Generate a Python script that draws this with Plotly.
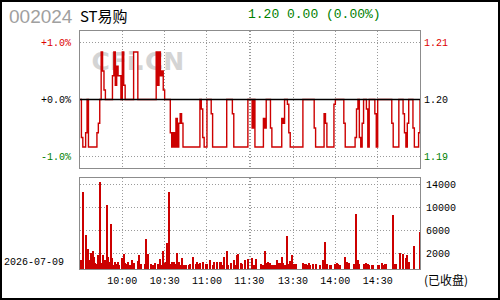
import plotly.graph_objects as go

# ---------------- data ----------------
stock_code = "002024"
stock_name = "ST易购"
trade_date = "2026-07-09"
prev_close = 1.20
quote_text = "1.20 0.00 (0.00%)"

# minute categories 09:30-11:30, 13:00-15:00
times = []
for h, m0, m1 in [(9, 30, 59), (10, 0, 59), (11, 0, 30), (13, 0, 59), (14, 0, 59), (15, 0, 0)]:
    for m in range(m0, m1 + 1):
        times.append(f"{h:02d}:{m:02d}")

prices = [
    1.200, 1.192, 1.190, 1.190, 1.193, 1.200, 1.190, 1.190, 1.190, 1.190, 1.190, 1.190, 1.193, 1.195, 1.200, 1.210, 1.206, 1.202, 1.200, 1.200,
    1.200, 1.200, 1.200, 1.205, 1.210, 1.203, 1.207, 1.205, 1.205, 1.200, 1.210, 1.203, 1.200, 1.200, 1.200, 1.200, 1.200, 1.200, 1.210, 1.210,
    1.210, 1.200, 1.200, 1.200, 1.200, 1.200, 1.200, 1.200, 1.200, 1.200, 1.200, 1.200, 1.200, 1.200, 1.210, 1.203, 1.210, 1.205, 1.206, 1.202,
    1.200, 1.200, 1.200, 1.200, 1.193, 1.190, 1.193, 1.190, 1.196, 1.190, 1.195, 1.197, 1.195, 1.190, 1.190, 1.190, 1.190, 1.190, 1.190, 1.190,
    1.190, 1.190, 1.190, 1.190, 1.190, 1.200, 1.198, 1.192, 1.190, 1.190, 1.200, 1.200, 1.200, 1.197, 1.190, 1.190, 1.190, 1.190, 1.190, 1.190,
    1.190, 1.190, 1.190, 1.190, 1.200, 1.200, 1.200, 1.200, 1.197, 1.190, 1.190, 1.190, 1.190, 1.190, 1.190, 1.190, 1.190, 1.190, 1.190, 1.200,
    1.200, 1.200, 1.194, 1.200, 1.190, 1.190, 1.190, 1.190, 1.190, 1.190, 1.196, 1.194, 1.200, 1.200, 1.200, 1.194, 1.190, 1.190, 1.190, 1.190,
    1.190, 1.190, 1.190, 1.196, 1.195, 1.200, 1.200, 1.199, 1.193, 1.190, 1.190, 1.190, 1.190, 1.190, 1.190, 1.190, 1.190, 1.190, 1.200, 1.200,
    1.200, 1.200, 1.200, 1.200, 1.200, 1.200, 1.194, 1.190, 1.190, 1.190, 1.190, 1.190, 1.190, 1.197, 1.195, 1.190, 1.190, 1.190, 1.190, 1.190,
    1.199, 1.200, 1.200, 1.200, 1.200, 1.200, 1.200, 1.195, 1.190, 1.190, 1.190, 1.190, 1.190, 1.190, 1.190, 1.192, 1.198, 1.200, 1.192, 1.190,
    1.195, 1.200, 1.200, 1.198, 1.190, 1.200, 1.200, 1.200, 1.200, 1.197, 1.190, 1.200, 1.200, 1.200, 1.200, 1.200, 1.200, 1.200, 1.200, 1.200,
    1.200, 1.195, 1.190, 1.190, 1.190, 1.190, 1.200, 1.200, 1.200, 1.197, 1.193, 1.190, 1.195, 1.200, 1.200, 1.200, 1.194, 1.190, 1.190, 1.190,
    1.193, 1.200,
]

volumes = [
    0, 1600, 13400, 0, 5900, 0, 3500, 1600, 2800, 3000, 2100, 1000, 900, 2300, 15100, 1000, 2400, 1600, 1600, 11000,
    2100, 1200, 7700, 1900, 700, 1200, 900, 1200, 700, 0, 1900, 2600, 1000, 900, 1200, 700, 700, 1600, 1000, 0,
    0, 1400, 2400, 900, 0, 0, 900, 5200, 2600, 0, 900, 700, 700, 1000, 0, 900, 0, 1700, 700, 3100,
    1000, 1200, 4500, 13400, 900, 1200, 700, 1200, 900, 2800, 1200, 700, 1900, 0, 700, 700, 0, 700, 900, 0,
    2100, 0, 900, 1200, 900, 1000, 0, 1200, 0, 900, 900, 0, 1600, 0, 700, 1200, 0, 1200, 0, 1200,
    1200, 700, 2100, 0, 3000, 700, 0, 1000, 0, 1600, 700, 2300, 2600, 0, 1000, 900, 0, 1600, 0, 1700,
    0, 0, 1900, 700, 0, 1700, 0, 0, 900, 0, 700, 3000, 1000, 1200, 0, 1000, 700, 700, 700, 0,
    1600, 1000, 1000, 2100, 1000, 700, 0, 5700, 900, 1400, 2400, 0, 900, 900, 0, 0, 0, 0, 1000, 900,
    900, 700, 1000, 700, 0, 900, 0, 900, 0, 0, 700, 0, 1600, 700, 4700, 900, 0, 700, 700, 0,
    0, 900, 1000, 900, 700, 0, 0, 0, 2100, 1200, 700, 1000, 0, 0, 900, 0, 9600, 1600, 900, 0,
    0, 900, 900, 1000, 900, 700, 0, 700, 700, 0, 0, 700, 700, 0, 1000, 700, 900, 900, 0, 0,
    0, 0, 9400, 900, 900, 0, 0, 2800, 0, 2600, 0, 1900, 2300, 1200, 0, 0, 0, 4000, 0, 0,
    0, 6400,
]

time_ticks = ["10:00", "10:30", "11:00", "11:30", "13:00", "13:30", "14:00", "14:30"]
time_labels = ["10:00", "10:30", "11:00", "11:30", "", "13:30", "14:00", "14:30"]

pct_levels = [0.01, 0.0, -0.01]
pct_labels = ["+1.0%", "+0.0%", "-1.0%"]
price_labels = ["1.21", "1.20", "1.19"]
level_colors = ["#DD0000", "#000000", "#008000"]

vol_max = 15780
vol_grid = [2730, 6730, 10730, 14730]
vol_labels = ["2000", "6000", "10000", "14000"]

# ---------------- layout helpers ----------------
W, H = 500, 300
ML, MR, MT, MB = 80, 80, 31, 31
PW, PH = W - ML - MR, H - MT - MB


def px(x):
    return (x - ML) / PW


def py(y):
    return (H - MB - y) / PH


price_dom = [py(168), 1]
vol_dom = [0, py(178.3)]
span = 0.012
y_lo, y_hi = prev_close * (1 - span), prev_close * (1 + span)
level_vals = [prev_close * (1 + p) for p in pct_levels]

RED = "#CC0000"
GRID = "#9a9a9a"
FRAME = "#8c8c8c"
MONO = "Liberation Mono"

fig = go.Figure()

# watermark (drawn first so lines sit above it)
fig.add_trace(go.Scatter(
    x=[times[41]], y=[prev_close * 1.0063], mode="text", text=["CFi.CN"],
    textfont=dict(family="DejaVu Sans", size=25, color="#D4D4D4", weight="bold"),
    hoverinfo="skip", showlegend=False, xaxis="x", yaxis="y"))

fig.add_trace(go.Scatter(
    x=times, y=prices, mode="lines", line=dict(color=RED, width=1.4, shape="hv"),
    showlegend=False, xaxis="x", yaxis="y"))

fig.add_trace(go.Scatter(
    x=[times[0], times[-1]], y=[prev_close, prev_close], mode="lines",
    line=dict(color="#000000", width=1.5), showlegend=False, xaxis="x", yaxis="y3"))

fig.add_trace(go.Bar(
    x=times, y=volumes, marker=dict(color=RED, line=dict(width=0)), width=0.75,
    showlegend=False, xaxis="x2", yaxis="y2"))

xcommon = dict(type="category", categoryorder="array", categoryarray=times,
               range=[0, len(times) - 1], tickvals=time_ticks, showgrid=True,
               gridcolor=GRID, griddash="1px,2px", gridwidth=1,
               showline=True, mirror=True, linecolor=FRAME, linewidth=1, zeroline=False)

fig.update_layout(
    width=W, height=H, paper_bgcolor="white", plot_bgcolor="white",
    margin=dict(l=ML, r=MR, t=MT, b=MB, autoexpand=False),
    showlegend=False, bargap=0,
    xaxis=dict(**xcommon, anchor="y", showticklabels=False, ticks=""),
    yaxis=dict(domain=price_dom, range=[y_lo, y_hi], tickvals=level_vals,
               ticktext=[f"<span style='color:{c}'>{t}</span>" for t, c in zip(pct_labels, level_colors)],
               tickfont=dict(family=MONO, size=10, color="#000"),
               ticks="outside", ticklen=6, tickcolor="rgba(0,0,0,0)",
               showgrid=True, gridcolor=GRID, griddash="1px,2px", gridwidth=1,
               showline=True, mirror=True, linecolor=FRAME, linewidth=1, zeroline=False, anchor="x"),
    yaxis3=dict(overlaying="y", side="right", range=[y_lo, y_hi], tickvals=level_vals,
                ticktext=[f"<span style='color:{c}'>{t}</span>" for t, c in zip(price_labels, level_colors)],
                tickfont=dict(family=MONO, size=10, color="#000"),
                ticks="outside", ticklen=1, tickcolor="rgba(0,0,0,0)",
                showgrid=False, zeroline=False, showline=False, anchor="x"),
    xaxis2=dict(**xcommon, anchor="y2", ticktext=time_labels,
                tickfont=dict(family=MONO, size=10, color="#000"),
                ticks="outside", ticklen=2, tickcolor="rgba(0,0,0,0)"),
    yaxis2=dict(domain=vol_dom, range=[0, vol_max], side="right", anchor="x2",
                tickvals=vol_grid, ticktext=vol_labels,
                tickfont=dict(family=MONO, size=10, color="#000"),
                ticks="outside", ticklen=3, tickcolor="rgba(0,0,0,0)",
                showgrid=True, gridcolor=GRID, griddash="1px,2px", gridwidth=1,
                showline=True, mirror=True, linecolor=FRAME, linewidth=1, zeroline=False),
)

ann = [
    dict(text=stock_code, x=px(7), y=py(17), xanchor="left", yanchor="middle",
         font=dict(family="Liberation Sans", size=19, color="#A0A0A0")),
    dict(text=stock_name, x=px(78), y=py(15), xanchor="left", yanchor="middle",
         font=dict(family="Noto Sans CJK SC", size=15, color="#000")),
    dict(text=quote_text, x=px(246), y=py(14.5), xanchor="left", yanchor="middle",
         font=dict(family=MONO, size=13, color="#008000")),
    dict(text=trade_date, x=px(66), y=py(262.5), xanchor="right", yanchor="middle",
         font=dict(family=MONO, size=10, color="#000")),
    dict(text="(已收盘)", x=px(422), y=py(279.5), xanchor="left", yanchor="middle",
         font=dict(family="Noto Sans CJK SC", size=12, color="#000")),
]
for a in ann:
    a.update(xref="paper", yref="paper", showarrow=False)
fig.update_layout(annotations=ann)

fig.add_shape(type="rect", xref="paper", yref="paper",
              x0=px(1), x1=px(499), y0=py(1), y1=py(299),
              line=dict(color="#000", width=2), fillcolor="rgba(0,0,0,0)", layer="above")

fig.write_html("out.html")
